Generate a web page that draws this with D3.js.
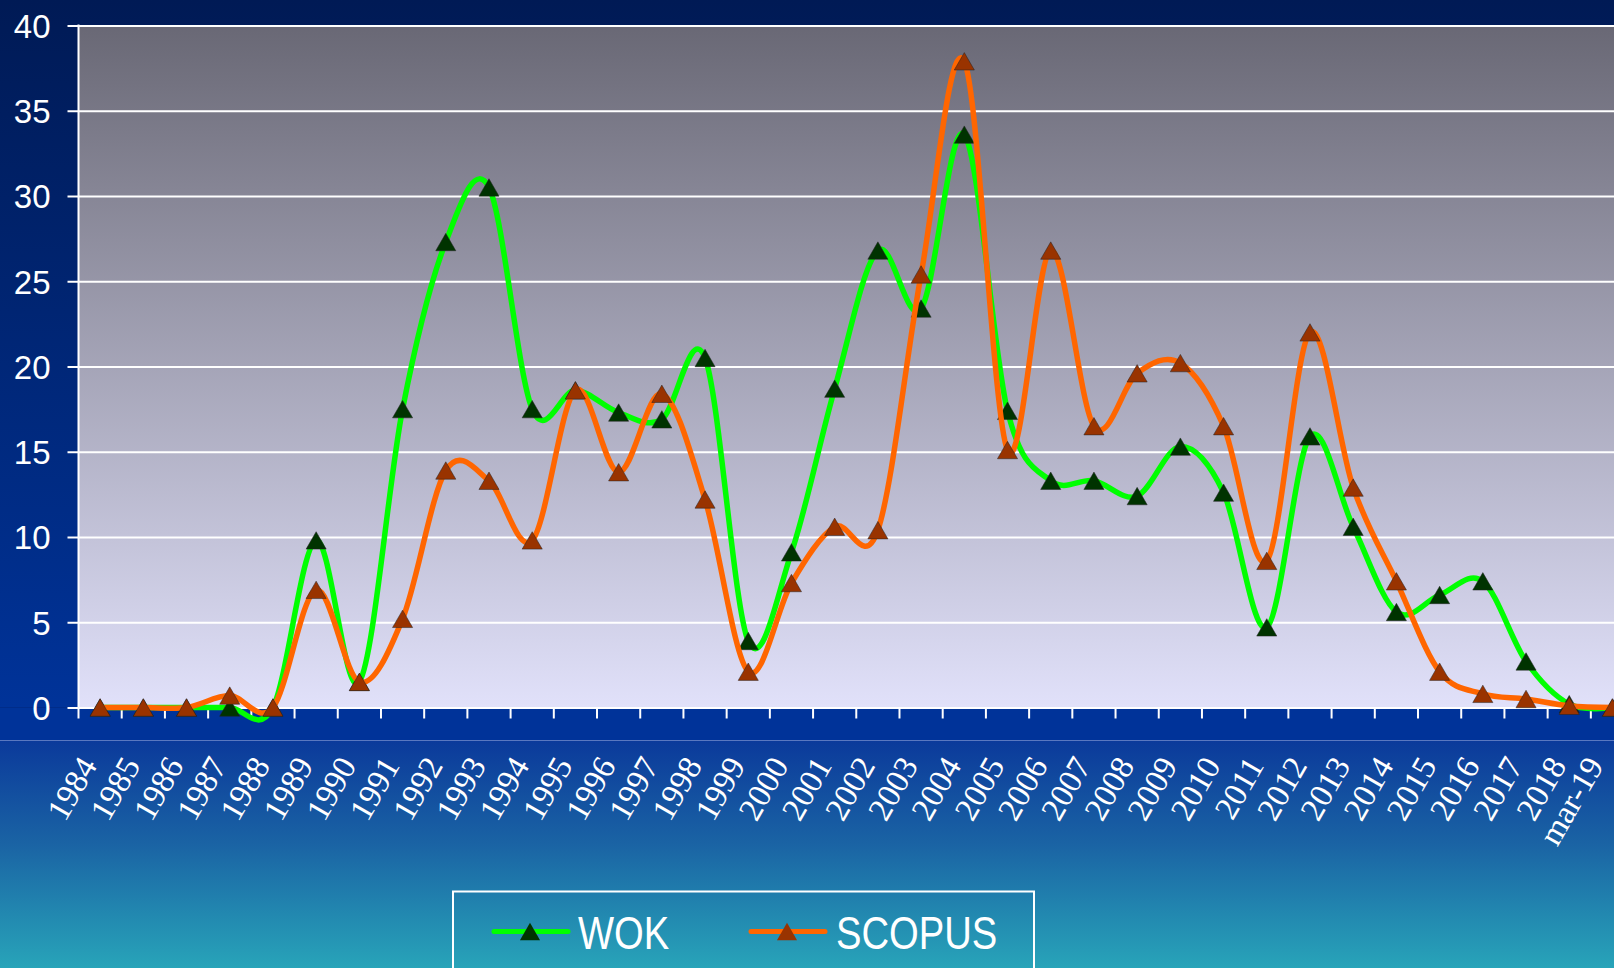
<!DOCTYPE html>
<html>
<head>
<meta charset="utf-8">
<script src="https://cdn.jsdelivr.net/npm/d3@7"></script>
<style>
  body { margin: 0; overflow: hidden; background: #001a57; }
  svg { display: block; }
</style>
</head>
<body>
<div id="chart"></div>
<script>
const years = ["1984", "1985", "1986", "1987", "1988", "1989", "1990", "1991", "1992", "1993",
  "1994", "1995", "1996", "1997", "1998", "1999", "2000", "2001", "2002", "2003",
  "2004", "2005", "2006", "2007", "2008", "2009", "2010", "2011", "2012", "2013",
  "2014", "2015", "2016", "2017", "2018", "mar-19"];

const wok = [0, 0, 0, 0, 0, 9.8, 1.5, 17.5, 27.3, 30.5,
  17.5, 18.6, 17.3, 16.9, 20.5, 3.9, 9.1, 18.7, 26.8, 23.4,
  33.6, 17.4, 13.3, 13.3, 12.4, 15.3, 12.6, 4.7, 15.9, 10.6,
  5.6, 6.6, 7.4, 2.7, 0.2, 0];

const scopus = [0, 0, 0, 0.7, 0, 6.9, 1.5, 5.2, 13.9, 13.3,
  9.8, 18.6, 13.8, 18.4, 12.2, 2.1, 7.3, 10.6, 10.4, 25.4,
  37.9, 15.1, 26.8, 16.5, 19.6, 20.2, 16.5, 8.6, 22.0, 12.9,
  7.4, 2.1, 0.8, 0.5, 0.1, 0];

const yTicks = [0, 5, 10, 15, 20, 25, 30, 35, 40];

const series = [
  {name: "WOK", values: wok, line: "#00ff00", marker: "#003300"},
  {name: "SCOPUS", values: scopus, line: "#ff6600", marker: "#993300"}
];

/*******************************/
/*    Declare the constants    */
/*******************************/
const width = 1614;
const height = 968;
const plotLeft = 78.5;
const plotTop = 25.5;
const plotBottom = 707.5;
const bandWidth = 43.21;
const plotRight = plotLeft + bandWidth * years.length;

const svg = d3.select("#chart")
  .append("svg")
    .attr("width", width)
    .attr("height", height);

const defs = svg.append("defs");

const outerGrad = defs.append("linearGradient")
    .attr("id", "outerGrad")
    .attr("x1", 0).attr("y1", 0).attr("x2", 0).attr("y2", 1);
outerGrad.append("stop").attr("offset", "0%").attr("stop-color", "#001a55");
outerGrad.append("stop").attr("offset", "100%").attr("stop-color", "#003399");

const lowerGrad = defs.append("linearGradient")
    .attr("id", "lowerGrad")
    .attr("x1", 0).attr("y1", 0).attr("x2", 0).attr("y2", 1);
lowerGrad.append("stop").attr("offset", "0%").attr("stop-color", "#0b3a9b");
lowerGrad.append("stop").attr("offset", "45%").attr("stop-color", "#1a63a4");
lowerGrad.append("stop").attr("offset", "100%").attr("stop-color", "#28a4b9");

const plotGrad = defs.append("linearGradient")
    .attr("id", "plotGrad")
    .attr("x1", 0).attr("y1", 0).attr("x2", 0).attr("y2", 1);
plotGrad.append("stop").attr("offset", "0%").attr("stop-color", "#696875");
plotGrad.append("stop").attr("offset", "100%").attr("stop-color", "#e1e1fa");

// Backgrounds
svg.append("rect")
    .attr("x", 0).attr("y", 0)
    .attr("width", width).attr("height", plotBottom)
    .attr("fill", "url(#outerGrad)");
svg.append("rect")
    .attr("x", 0).attr("y", plotBottom)
    .attr("width", width).attr("height", 34)
    .attr("fill", "#003399");
svg.append("rect")
    .attr("x", 0).attr("y", 741)
    .attr("width", width).attr("height", height - 741)
    .attr("fill", "url(#lowerGrad)");
svg.append("line")
    .attr("x1", 0).attr("x2", width)
    .attr("y1", 740.5).attr("y2", 740.5)
    .attr("stroke", "#5a78c0")
    .attr("stroke-width", 1);

/****************************/
/*    Declare the scales    */
/****************************/
const xScale = d3.scaleBand()
  .domain(years)
  .range([plotLeft, plotRight]);

const yScale = d3.scaleLinear()
  .domain([0, 40])
  .range([plotBottom, plotTop]);

svg.append("rect")
    .attr("x", plotLeft).attr("y", plotTop)
    .attr("width", width - plotLeft).attr("height", plotBottom - plotTop)
    .attr("fill", "url(#plotGrad)");

/**************************/
/*      Add the axes      */
/**************************/
const leftAxis = d3.axisLeft(yScale)
  .tickValues(yTicks)
  .tickSize(plotRight - plotLeft)
  .tickSizeOuter(0);
const leftAxisG = svg.append("g")
    .attr("transform", `translate(${plotRight}, 0)`)
    .call(leftAxis);
leftAxisG.select(".domain").remove();
leftAxisG.selectAll(".tick line")
    .attr("stroke", "white")
    .attr("stroke-width", 2);
// short ticks outside the y axis
leftAxisG.selectAll(".tick")
  .append("line")
    .attr("x1", -(plotRight - plotLeft))
    .attr("x2", -(plotRight - plotLeft) - 11)
    .attr("stroke", "white")
    .attr("stroke-width", 2);
leftAxisG.selectAll(".tick text")
    .attr("x", -(plotRight - plotLeft) - 28)
    .attr("dy", "0.36em")
    .attr("fill", "white")
    .style("font-family", "'Liberation Sans', Arial, sans-serif")
    .style("font-size", "33px");

svg.append("line")
    .attr("x1", plotLeft).attr("x2", plotLeft)
    .attr("y1", plotTop - 1).attr("y2", plotBottom)
    .attr("stroke", "white")
    .attr("stroke-width", 2);

const bottomAxis = d3.axisBottom(xScale)
  .tickSize(0)
  .tickSizeOuter(0);
const bottomAxisG = svg.append("g")
    .attr("transform", `translate(0, ${plotBottom})`)
    .call(bottomAxis);
bottomAxisG.select(".domain")
    .attr("stroke", "white")
    .attr("stroke-width", 2);
bottomAxisG.selectAll(".tick text")
    .attr("text-anchor", "end")
    .attr("fill", "white")
    .attr("dy", 0)
    .attr("y", 0)
    .attr("transform", (d, i) => `translate(${i === years.length - 1 ? -8 : -2}, 58) rotate(-60)`)
    .style("font-family", "'Liberation Serif', 'Times New Roman', serif")
    .style("font-size", "33px");

// tick marks at band boundaries
svg.append("g")
  .selectAll("line")
  .data(years)
  .join("line")
    .attr("x1", d => xScale(d))
    .attr("x2", d => xScale(d))
    .attr("y1", plotBottom)
    .attr("y2", plotBottom + 11)
    .attr("stroke", "white")
    .attr("stroke-width", 2);

/******************************/
/*      Add the series        */
/******************************/
const xCenter = i => xScale(years[i]) + xScale.bandwidth() / 2;
const lineGen = d3.line()
  .x((d, i) => xCenter(i))
  .y(d => yScale(d))
  .curve(d3.curveCardinal.tension(0));
const markerSize = 175;
const triangle = d3.symbol().type(d3.symbolTriangle).size(markerSize);
// d3 centres the triangle on its centroid; shift so its box is centred on the point
const markerShift = Math.sqrt(markerSize / (Math.sqrt(3) * 3)) / 2;

series.forEach(s => {
  const g = svg.append("g").attr("class", `series-${s.name}`);
  g.append("path")
      .datum(s.values)
      .attr("d", lineGen)
      .attr("fill", "none")
      .attr("stroke", s.line)
      .attr("stroke-width", 5.5)
      .attr("stroke-linejoin", "round");
  g.selectAll("path.marker")
    .data(s.values)
    .join("path")
      .attr("class", "marker")
      .attr("d", triangle)
      .attr("transform", (d, i) => `translate(${xCenter(i)}, ${yScale(d) + markerShift})`)
      .attr("fill", s.marker)
      .attr("stroke", "#222")
      .attr("stroke-width", 0.5);
});

/**************************/
/*      Add the legend    */
/**************************/
const legend = svg.append("g");
legend.append("rect")
    .attr("x", 453).attr("y", 891.5)
    .attr("width", 581).attr("height", 95)
    .attr("fill", "none")
    .attr("stroke", "white")
    .attr("stroke-width", 2);

const legendItems = [
  {x: 494, textX: 578},
  {x: 751, textX: 836}
];
series.forEach((s, i) => {
  const item = legend.append("g");
  const lx = legendItems[i].x;
  item.append("line")
      .attr("x1", lx).attr("x2", lx + 74)
      .attr("y1", 931.5).attr("y2", 931.5)
      .attr("stroke", s.line)
      .attr("stroke-width", 5)
      .attr("stroke-linecap", "round");
  item.append("path")
      .attr("d", triangle)
      .attr("transform", `translate(${lx + 36}, ${931.5 + markerShift})`)
      .attr("fill", s.marker);
  item.append("text")
      .attr("transform", `translate(${legendItems[i].textX}, 949) scale(0.83, 1)`)
      .attr("fill", "white")
      .style("font-family", "'Liberation Sans', Arial, sans-serif")
      .style("font-size", "46px")
      .text(s.name);
});
</script>
</body>
</html>
